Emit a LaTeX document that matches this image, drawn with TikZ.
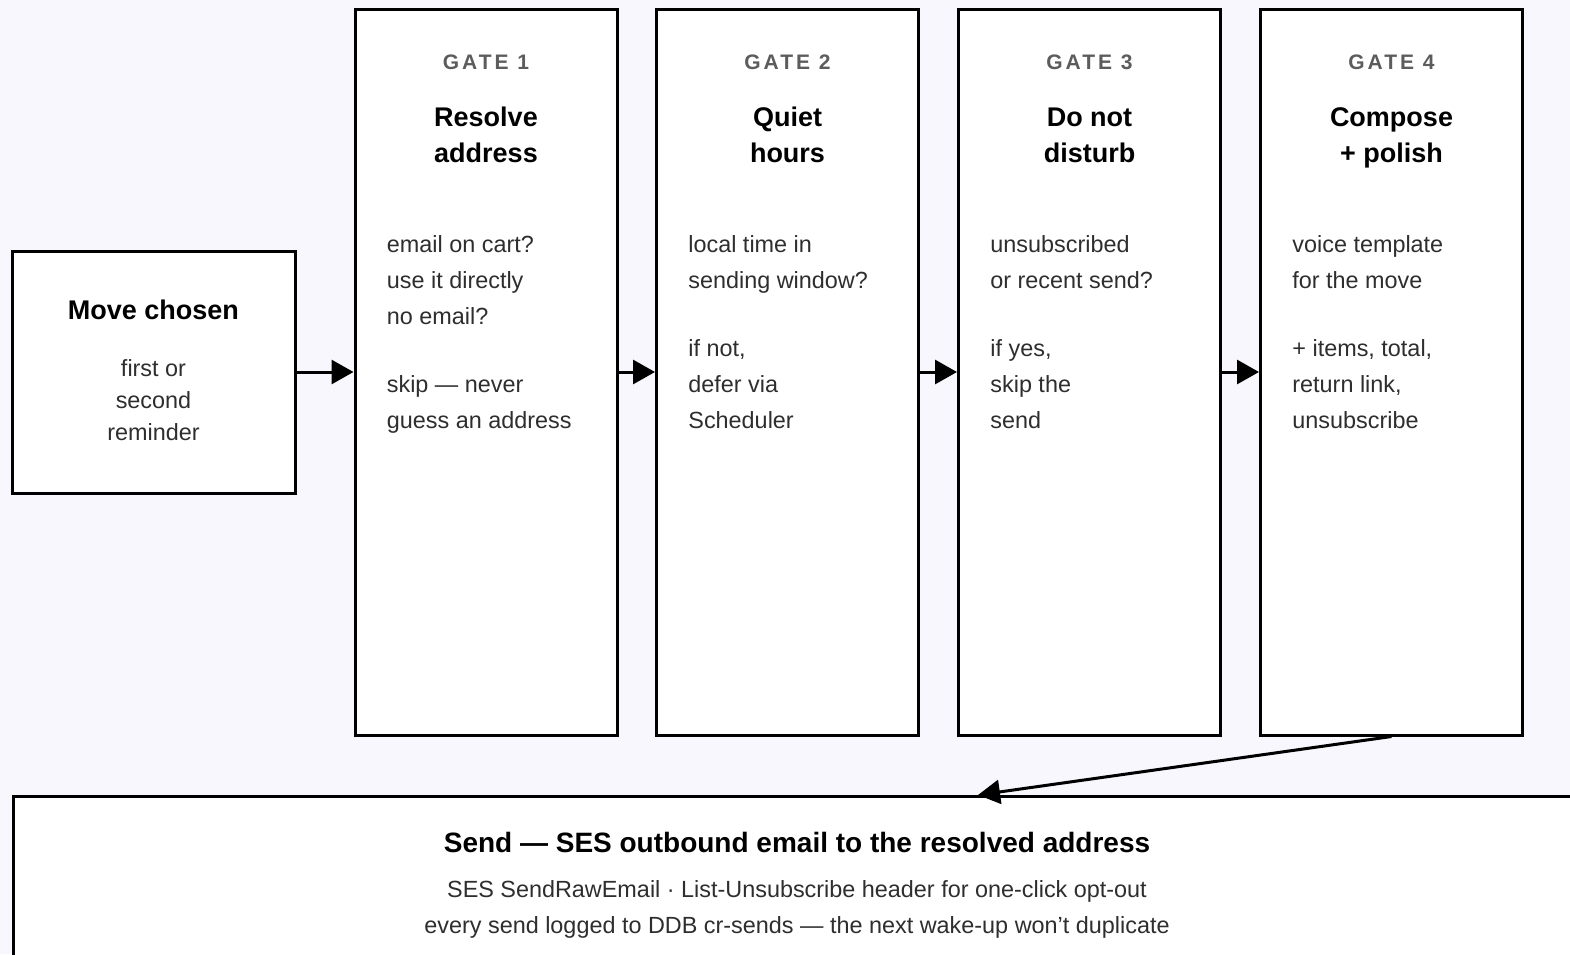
\documentclass[tikz,border=0pt]{standalone}
\usepackage{fontspec}
\setmainfont{Liberation Sans}
\usetikzlibrary{arrows.meta,positioning}
\definecolor{bgpaper}{HTML}{F8F7FE}
\definecolor{labelgray}{HTML}{5C5C5C}
\definecolor{bodygray}{HTML}{2E2E2E}
\newcommand{\gatefont}{\fontsize{10.5}{12}\selectfont\bfseries\addfontfeature{LetterSpace=14}}
\begin{document}
\begin{tikzpicture}[x=0.5pt,y=-0.5pt,
  box/.style={draw=black,line width=1.5pt,fill=white,inner sep=0pt},
  gatebox/.style={box,minimum width=131pt,minimum height=363pt},
  flow/.style={line width=1.5pt,-{Triangle[length=11pt,width=12pt]}},
  gatelabel/.style={text=labelgray,font=\gatefont},
  title/.style={font=\fontsize{13.5}{18}\selectfont\bfseries,align=center},
  body/.style={text=bodygray,font=\fontsize{11.7}{18}\selectfont,align=left,inner sep=0pt}]
\fill[bgpaper] (0,0) rectangle (1570,954);
\useasboundingbox (0,0) rectangle (1570,954);
% start box
\node[box,minimum width=141.5pt,minimum height=121pt] (move) at (153.5,372) {};
\node[title] (movetitle) at (153.5,310) {Move chosen};
\node[body,align=center,font=\fontsize{11.7}{16}\selectfont] (movebody) at (153.5,400) {first or\\second\\reminder};
% the four gates
\foreach \n/\cx/\ttl/\txt in {
  1/486/{Resolve\\address}/{email on cart?\\use it directly\\no email?\\[16pt]skip --- never\\guess an address},
  2/787.5/{Quiet\\hours}/{local time in\\sending window?\\[16pt]if not,\\defer via\\Scheduler},
  3/1089.5/{Do not\\disturb}/{unsubscribed\\or recent send?\\[16pt]if yes,\\skip the\\send},
  4/1391.5/{Compose\\+ polish}/{voice template\\for the move\\[16pt]+ items, total,\\return link,\\unsubscribe}}{
  \node[gatebox] (gate\n) at (\cx,372) {};
  \node[gatelabel] (gatelbl\n) at (\cx,62) {GATE \n};
  \node[title] (gatettl\n) at (\cx,137.5) {\strut\ttl\strut};
  \node[body,anchor=north west] (gatetxt\n) at ([xshift=16.5pt,yshift=-114pt]gate\n.north west) {\txt};
}
% send box
\node[box,anchor=north west,minimum width=785pt,minimum height=110pt] (send) at (12,795) {};
\node[title,font=\fontsize{14}{18}\selectfont\bfseries] (sendtitle) at (797,842) {Send --- SES outbound email to the resolved address};
\node[body,align=center] (sendbody) at (797,909) {SES SendRawEmail · List-Unsubscribe header for one-click opt-out\\every send logged to DDB cr-sends --- the next wake-up won’t duplicate};
\coordinate (sendin) at (978,795);
% connectors
\draw[flow] (move.east) -- (gate1.west);
\draw[flow] (gate1.east) -- (gate2.west);
\draw[flow] (gate2.east) -- (gate3.west);
\draw[flow] (gate3.east) -- (gate4.west);
\draw[flow] (gate4.south) -- (sendin);
\end{tikzpicture}
\end{document}
